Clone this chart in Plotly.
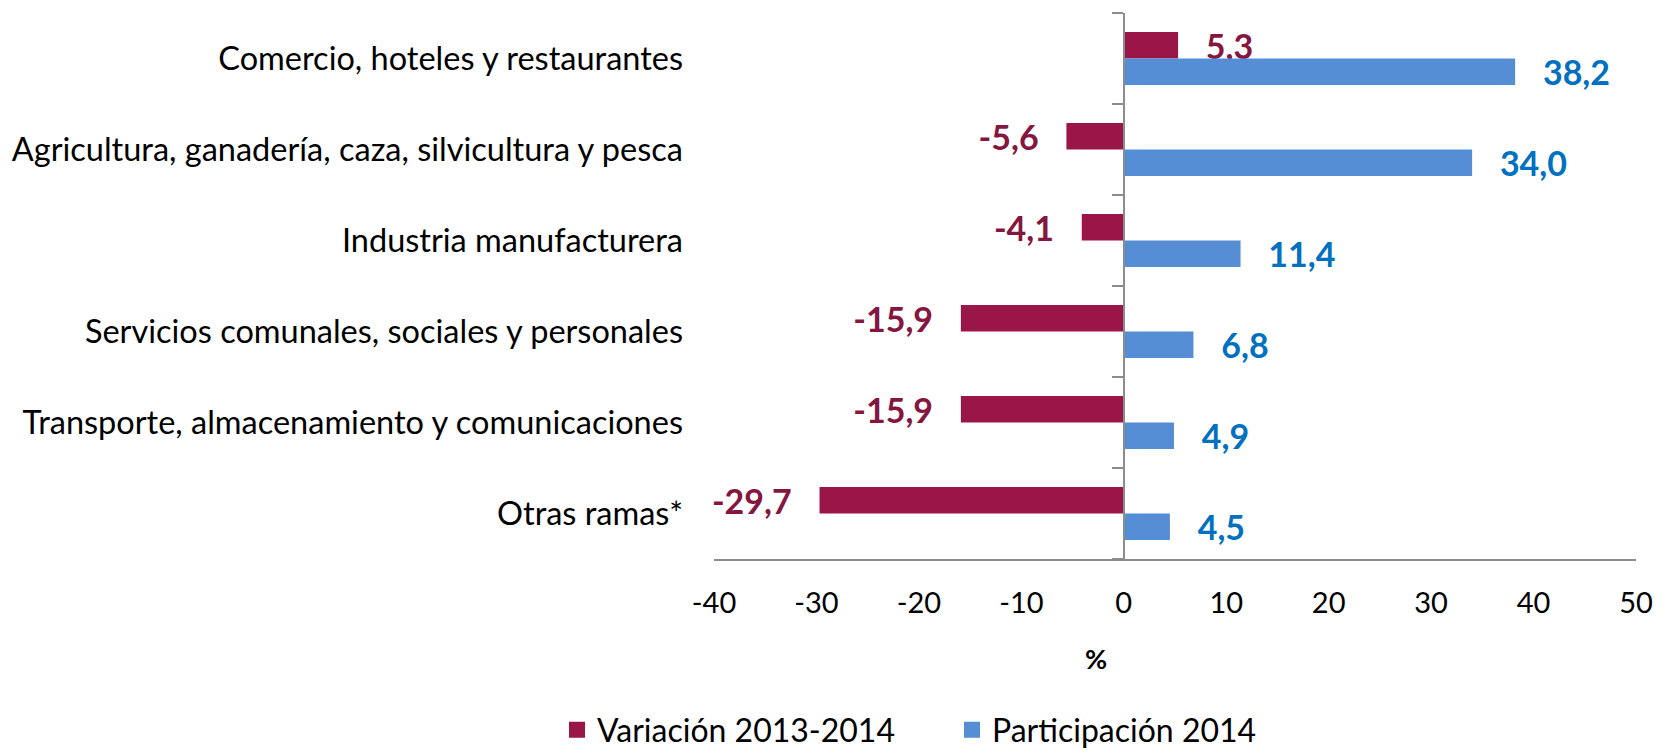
import plotly.graph_objects as go

categories = [
    "Comercio, hoteles y restaurantes",
    "Agricultura, ganadería, caza, silvicultura y pesca",
    "Industria manufacturera",
    "Servicios comunales, sociales y personales",
    "Transporte, almacenamiento y comunicaciones",
    "Otras ramas*",
]
variacion = [5.3, -5.6, -4.1, -15.9, -15.9, -29.7]
participacion = [38.2, 34.0, 11.4, 6.8, 4.9, 4.5]
x_ticks = [-40, -30, -20, -10, 0, 10, 20, 30, 40, 50]
series_names = ["Variación 2013-2014", "Participación 2014"]

FONT = "Lato"
RED = "#9b1648"
RED_TXT = "#84163f"
BLUE = "#558ed5"
BLUE_TXT = "#0070c0"
NB = "\u00a0"


def fmt(v):
    s = f"{v:.1f}".replace(".", ",")
    return (s + NB * 3) if v < 0 else (NB * 3 + s)


fig = go.Figure()
for name, vals, col, tcol in [
    (series_names[0], variacion, RED, RED_TXT),
    (series_names[1], participacion, BLUE, BLUE_TXT),
]:
    fig.add_trace(go.Bar(
        y=categories, x=vals, orientation="h", name=name, showlegend=False,
        legendgroup=name,
        marker=dict(color=col, line=dict(width=0)),
        text=[fmt(v) for v in vals], textposition="outside",
        textfont=dict(family=FONT, size=34, color=tcol, weight="bold"),
        constraintext="none", cliponaxis=False,
    ))
# legend swatches (square, larger than the default bar swatch)
for name, col in [(series_names[0], RED), (series_names[1], BLUE)]:
    fig.add_trace(go.Scatter(
        x=[None], y=[None], mode="markers", name=name, legendgroup=name,
        marker=dict(symbol="square", size=17, color=col, line=dict(width=0)),
        hoverinfo="skip",
    ))

n = len(categories)
xmin, xmax = x_ticks[0], x_ticks[-1]
zero_pos = (0 - xmin) / (xmax - xmin)

fig.update_layout(
    width=1665, height=753,
    paper_bgcolor="white", plot_bgcolor="white",
    barmode="group", bargap=0.42, bargroupgap=0,
    margin=dict(l=704, r=20, t=13, b=194),
    font=dict(family=FONT, color="#000000"),
    xaxis=dict(
        range=[xmin, xmax], tickvals=x_ticks, ticktext=[str(t) for t in x_ticks],
        showgrid=False, zeroline=False, showline=True, linecolor="#8c8c8c", linewidth=2,
        ticks="", tickfont=dict(family=FONT, size=29, color="#000000"),
        ticklabelstandoff=17,
    ),
    yaxis=dict(
        type="category", categoryarray=categories, autorange="reversed",
        showgrid=False, zeroline=False, showline=False, ticks="",
        tickfont=dict(family=FONT, size=32.5, color="#000000"),
        ticklabelstandoff=30,
    ),
    yaxis2=dict(
        overlaying="y", anchor="free", position=zero_pos, side="left",
        range=[n - 0.5, -0.5], tickvals=[i - 0.5 for i in range(n + 1)],
        showticklabels=False, ticks="outside", ticklen=11, tickwidth=2, tickcolor="#8c8c8c",
        showline=True, linecolor="#8c8c8c", linewidth=2, showgrid=False, zeroline=False,
    ),
    legend=dict(
        orientation="h", xref="container", yref="container",
        x=557 / 1665, y=1 - 730 / 753, xanchor="left", yanchor="middle",
        font=dict(family=FONT, size=32, color="#000000"),
        entrywidth=350, entrywidthmode="pixels", bgcolor="rgba(0,0,0,0)",
        itemsizing="trace",
    ),
    annotations=[dict(
        text="<b>%</b>", xref="paper", yref="paper",
        x=(1094 - 704) / 941, y=(559 - 658) / 546, showarrow=False,
        xanchor="center", yanchor="middle",
        font=dict(family=FONT, size=27, color="#000000"),
    )],
)
fig.add_trace(go.Scatter(x=[None], y=[None], yaxis="y2", showlegend=False, hoverinfo="skip"))

fig.write_html(
    "out.html",
    config={"displayModeBar": False},
    post_script="document.body.style.margin='0';document.body.style.overflow='hidden';",
)
